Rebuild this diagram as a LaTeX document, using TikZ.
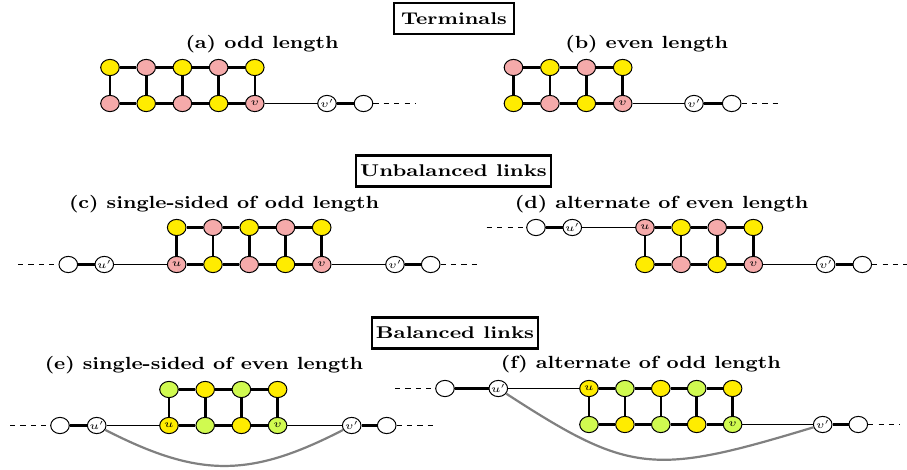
\RequirePackage{fix-cm}
\documentclass[tikz,border=0pt]{standalone}
\usepackage{fontspec}
\usepackage{graphicx}
\usetikzlibrary{shapes.geometric}
\definecolor{yel}{RGB}{255,236,0}
\definecolor{pnk}{RGB}{245,170,170}
\definecolor{grn}{RGB}{208,250,80}
\newcommand\sttl[1]{\scalebox{1.165}[1]{#1}}
\newcommand\slab[1]{\makebox[0pt][c]{\scalebox{1.12}[1]{#1}}}
\newcommand\ladder[6]{%
  \foreach \i/\ct/\cb/\lt/\lb in {#6} {
    \node[\ct] (#1t\i) at ({#2+#3*(\i-1)},#4) {\lt};
    \node[\cb] (#1b\i) at ({#2+#3*(\i-1)},#5) {\lb};
    \draw[thk] (#1t\i) -- (#1b\i);
  }}
\newcommand\rungs[2]{%
  \foreach \i [count=\j from 2] in {1,...,#2} {
    \draw[thk] (#1t\i) -- (#1t\j);
    \draw[thk] (#1b\i) -- (#1b\j);
  }}
\tikzset{
  vtx/.style={ellipse, draw, line width=0.5pt, minimum width=9.3pt, minimum height=8.1pt, inner sep=0pt, font=\fontsize{5.3}{6}\selectfont},
  Y/.style={vtx, fill=yel},
  P/.style={vtx, fill=pnk},
  G/.style={vtx, fill=grn},
  W/.style={vtx, fill=white},
  thk/.style={line width=1.3pt},
  thn/.style={line width=0.5pt},
  dsh/.style={line width=0.55pt, dash pattern=on 2.6pt off 2.6pt},
  arcl/.style={line width=1.1pt, draw=gray},
  ttl/.style={anchor=base, inner sep=0pt, font=\fontsize{8.8}{10}\selectfont\bfseries},
  hbox/.style={draw, line width=1.1pt, minimum height=15.5pt, inner sep=0pt, font=\fontsize{8.5}{10}\selectfont\bfseries}
}
\begin{document}
\begin{tikzpicture}[x=0.5pt, y=-0.5pt]
\useasboundingbox (0,0) rectangle (907,470);
% headings
\node[hbox, minimum width=60pt] (h1) at (454,18.5) {\scalebox{1.22}[1]{Terminals}};
\node[hbox, minimum width=97.5pt] (h2) at (453.5,171) {\scalebox{1.24}[1]{Unbalanced links}};
\node[hbox, minimum width=83pt] (h3) at (455,333) {\scalebox{1.24}[1]{Balanced links}};
% titles
\node[ttl] (ta) at (262,48.5) {\sttl{(a) odd length}};
\node[ttl] (tb) at (646.7,48.5) {\sttl{(b) even length}};
\node[ttl] (tc) at (224,209) {\sttl{(c) single-sided of odd length}};
\node[ttl] (td) at (661.7,209) {\sttl{(d) alternate of even length}};
\node[ttl] (te) at (204,369.5) {\sttl{(e) single-sided of even length}};
\node[ttl] (tf) at (640.8,369) {\sttl{(f) alternate of odd length}};
% (a)
\ladder{a}{110}{36.2}{67.5}{103.5}{1/Y/P/{}/{}, 2/P/Y/{}/{}, 3/Y/P/{}/{}, 4/P/Y/{}/{}, 5/Y/P/{}/{\slab{$v$}}}
\rungs{a}{4}
\node[W] (avp) at (327,103.5) {\slab{$v'$}};
\node[W] (aw) at (363.5,103.5) {};
\coordinate (ae) at (415,103.5);
\draw[thn] (ab5) -- (avp);
\draw[thk] (avp) -- (aw);
\draw[dsh] (aw) -- (ae);
% (b)
\ladder{b}{513.5}{36.4}{67.5}{103.5}{1/P/Y/{}/{}, 2/Y/P/{}/{}, 3/P/Y/{}/{}, 4/Y/P/{}/{\slab{$v$}}}
\rungs{b}{3}
\node[W] (bvp) at (694,103.5) {\slab{$v'$}};
\node[W] (bw) at (731.7,103.5) {};
\coordinate (be) at (782,103.5);
\draw[thn] (bb4) -- (bvp);
\draw[thk] (bvp) -- (bw);
\draw[dsh] (bw) -- (be);
% (c)
\ladder{c}{176.7}{36.25}{227.5}{264.5}{1/Y/P/{}/{\slab{$u$}}, 2/P/Y/{}/{}, 3/Y/P/{}/{}, 4/P/Y/{}/{}, 5/Y/P/{}/{\slab{$v$}}}
\rungs{c}{4}
\coordinate (cs) at (18,264.5);
\node[W] (cw) at (68.3,264.5) {};
\node[W] (cup) at (104.3,264.5) {\slab{$u'$}};
\node[W] (cvp) at (395,264.5) {\slab{$v'$}};
\node[W] (cw2) at (430.7,264.5) {};
\coordinate (ce) at (480,264.5);
\draw[dsh] (cs) -- (cw);
\draw[thk] (cw) -- (cup);
\draw[thn] (cup) -- (cb1);
\draw[thn] (cb5) -- (cvp);
\draw[thk] (cvp) -- (cw2);
\draw[dsh] (cw2) -- (ce);
% (d)
\ladder{d}{645}{36.1}{227.5}{264.5}{1/P/Y/{\slab{$u$}}/{}, 2/Y/P/{}/{}, 3/P/Y/{}/{}, 4/Y/P/{}/{\slab{$v$}}}
\rungs{d}{3}
\coordinate (ds) at (486.7,227.5);
\node[W] (dw) at (536,227.5) {};
\node[W] (dup) at (572.3,227.5) {\slab{$u'$}};
\node[W] (dvp) at (825.7,264.5) {\slab{$v'$}};
\node[W] (dw2) at (862.3,264.5) {};
\coordinate (de) at (907,264.5);
\draw[dsh] (ds) -- (dw);
\draw[thk] (dw) -- (dup);
\draw[thn] (dup) -- (dt1);
\draw[thn] (db4) -- (dvp);
\draw[thk] (dvp) -- (dw2);
\draw[dsh] (dw2) -- (de);
% (e)
\ladder{e}{169}{36.2}{389.5}{425.5}{1/G/Y/{}/{\slab{$u$}}, 2/Y/G/{}/{}, 3/G/Y/{}/{}, 4/Y/G/{}/{\slab{$v$}}}
\rungs{e}{3}
\coordinate (es) at (10,425.5);
\node[W] (ew) at (60,425.5) {};
\node[W] (eup) at (96.7,425.5) {\slab{$u'$}};
\node[W] (evp) at (351.7,425.5) {\slab{$v'$}};
\node[W] (ew2) at (386.7,425.5) {};
\coordinate (ee) at (437,425.5);
\draw[dsh] (es) -- (ew);
\draw[thk] (ew) -- (eup);
\draw[thn] (eup) -- (eb1);
\draw[thn] (eb4) -- (evp);
\draw[thk] (evp) -- (ew2);
\draw[dsh] (ew2) -- (ee);
\draw[arcl] (eup) .. controls (199,478) and (250,478) .. (evp);
% (f)
\ladder{f}{589}{35.9}{388.5}{424.5}{1/Y/G/{\slab{$u$}}/{}, 2/G/Y/{}/{}, 3/Y/G/{}/{}, 4/G/Y/{}/{}, 5/Y/G/{}/{\slab{$v$}}}
\rungs{f}{4}
\coordinate (fs) at (395,388.5);
\node[W] (fw) at (445,388.5) {};
\node[W] (fup) at (498.3,388.5) {\slab{$u'$}};
\node[W] (fvp) at (822.7,424.5) {\slab{$v'$}};
\node[W] (fw2) at (858.3,424.5) {};
\coordinate (fe) at (900,424.5);
\draw[dsh] (fs) -- (fw);
\draw[thk] (fw) -- (fup);
\draw[thn] (fup) -- (ft1);
\draw[thn] (fb5) -- (fvp);
\draw[thk] (fvp) -- (fw2);
\draw[dsh] (fw2) -- (fe);
\draw[arcl] (fup) .. controls (630,474) and (653,476) .. (fvp);
\end{tikzpicture}
\end{document}
